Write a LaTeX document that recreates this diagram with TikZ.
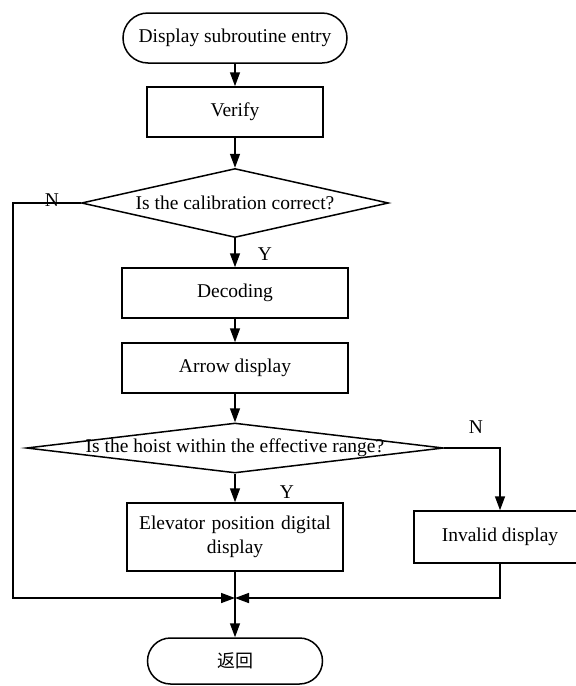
\documentclass[tikz,border=0pt]{standalone}
\usepackage{fontspec}
\setmainfont{Liberation Serif}
\newfontfamily\cjk{Noto Sans CJK SC}
\usetikzlibrary{shapes.geometric,arrows.meta}

\begin{document}
\begin{tikzpicture}[x=1pt, y=-1pt, line width=1.5pt,
    every node/.style={font=\fontsize{19.5}{24}\selectfont},
    terminal/.style={draw, minimum height=50pt, rounded corners=25pt},
    process/.style={draw, minimum height=50pt},
    decision/.style={draw, diamond, inner sep=0pt},
    flow/.style={-{Triangle[length=14pt,width=10pt]}}]
    \useasboundingbox (0,0) rectangle (576,686);

    % draw blocks
    \node[terminal, minimum width=224pt] (entry) at (235,38) {Display subroutine entry};
    \node[process, minimum width=176pt] (verify) at (235,112) {Verify};
    \node[decision, minimum width=307pt, minimum height=69pt,
          label=center:{Is the calibration correct?}] (calib) at (235,203) {};
    \node[process, minimum width=226pt] (decode) at (235,293) {Decoding};
    \node[process, minimum width=226pt] (arrowdisp) at (235,368) {Arrow display};
    \node[decision, minimum width=417pt, minimum height=50pt,
          label=center:{Is the hoist within the effective range?}] (range) at (235,448) {};
    \node[process, minimum width=216pt, minimum height=68pt, text width=205pt, align=center]
          (elevator) at (235,537) {Elevator position digital\\display};
    \node[process, minimum width=172pt, minimum height=52pt] (invalid) at (500,537) {Invalid display};
    \node[terminal, minimum width=175pt, minimum height=46pt, rounded corners=23pt]
          (back) at (235,661) {\cjk\fontsize{18}{20}\selectfont 返回};

    % draw branch labels
    \node (calibno) at (52,200) {N};
    \node (calibyes) at (265,254) {Y};
    \node (rangeno) at (476,427) {N};
    \node (rangeyes) at (287,492) {Y};

    % draw arrows
    \draw[flow] (entry) -- (verify);
    \draw[flow] (verify) -- (calib);
    \draw[flow] (calib) -- (decode);
    \draw[flow] (decode) -- (arrowdisp);
    \draw[flow] (arrowdisp) -- (range);
    \draw[flow] (range) -- (elevator);
    \draw[flow] (range.east) -| (invalid.north);
    \draw[flow] (elevator) -- (back);

    % draw return paths
    \coordinate (merge) at (235,598);
    \coordinate (leftside) at (13,598);
    \draw[flow] (calib.west) -| (leftside) -- (merge);
    \draw[flow] (invalid.south) |- (merge);
\end{tikzpicture}
\end{document}
